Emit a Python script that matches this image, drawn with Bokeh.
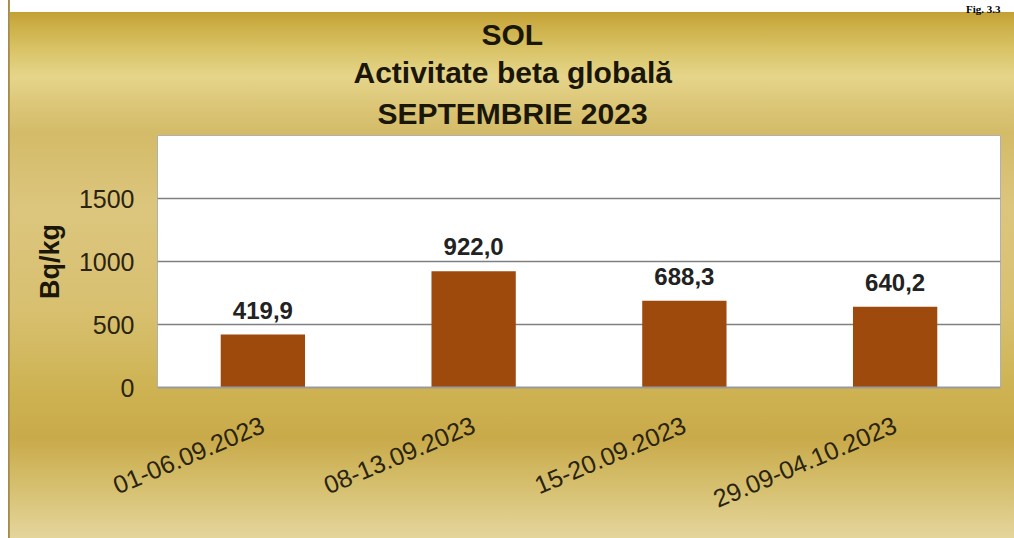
from bokeh.plotting import figure
from bokeh.models import ColumnDataSource, LabelSet, Title, Range1d, FixedTicker
from bokeh.core.properties import value
from bokeh.embed import file_html
from bokeh.resources import INLINE

# ---- data ----
categories = ["01-06.09.2023", "08-13.09.2023", "15-20.09.2023", "29.09-04.10.2023"]
values = [419.9, 922.0, 688.3, 640.2]
y_ticks = [0, 500, 1000, 1500]
title_lines = ["SOL", "Activitate beta globală", "SEPTEMBRIE 2023"]
y_label = "Bq/kg"
fig_label = "Fig. 3.3"

labels = [f"{v:.1f}".replace(".", ",") for v in values]
src = ColumnDataSource(dict(cat=categories, val=values, lab=labels))

W, H = 1014, 538
FL, FR, FT, FB = 157, 1000, 133, 387  # frame edges in canvas px
p = figure(
    width=W, height=H, x_range=categories, y_range=Range1d(0, 2000),
    output_backend="svg", toolbar_location=None,
    min_border_left=FL, min_border_right=W - FR, min_border_top=FT, min_border_bottom=H - FB,
)
p.border_fill_color = None
p.background_fill_color = "white"
p.outline_line_color = "#b0b0b0"
p.outline_line_width = 1
p.styles = {
    "background": (
        "linear-gradient(to right, #ffffff 0px, #ffffff 8px, #9c8548 8px, #b89e55 10px, rgba(0,0,0,0) 10px), "
        "linear-gradient(to bottom, #ffffff 0px, #ffffff 12px, #c2a035 12px, "
        "#c9aa40 20px, #d8c264 48px, #e5d58a 76px, #dbc576 108px, #d3bb68 133px, "
        "#dcc67e 208px, #d8c070 308px, #cdb150 398px, #c9aa4a 438px, "
        "#d6c070 488px, #e4d59c 538px)"
    ),
}

p.vbar(x="cat", top="val", width=0.4, source=src, fill_color="#9E4A0C", line_color=None)

p.add_layout(LabelSet(
    x="cat", y="val", text="lab", source=src, y_offset=16,
    text_align="center", text_baseline="alphabetic",
    text_font=value("Liberation Sans"), text_font_style="bold",
    text_font_size="24px", text_color="#222222",
))

# axes
p.yaxis.ticker = FixedTicker(ticks=y_ticks)
p.yaxis.axis_line_color = None
p.yaxis.major_tick_line_color = None
p.yaxis.minor_tick_line_color = None
p.yaxis.major_label_standoff = 17
p.yaxis.major_label_text_font = "Liberation Sans"
p.yaxis.major_label_text_font_size = "25px"
p.yaxis.major_label_text_color = "#2a2410"
p.yaxis.axis_label = y_label
p.yaxis.axis_label_text_font = "Liberation Sans"
p.yaxis.axis_label_text_font_style = "bold"
p.yaxis.axis_label_text_font_size = "27px"
p.yaxis.axis_label_text_color = "#1a1608"
p.yaxis.axis_label_standoff = 11

p.xaxis.axis_line_color = "#9a9a9a"
p.xaxis.axis_line_width = 2
p.xaxis.major_tick_line_color = None
p.xaxis.minor_tick_line_color = None
p.xaxis.major_label_orientation = 0.40
p.xaxis.major_label_standoff = 30
p.xaxis.major_label_text_font = "Liberation Sans"
p.xaxis.major_label_text_font_size = "25px"
p.xaxis.major_label_text_color = "#2a2410"

p.xgrid.grid_line_color = None
p.ygrid.grid_line_color = "#808080"
p.ygrid.grid_line_width = 1.5

# title: three lines, each centred at x=512 on the canvas
TITLE_CX = 512
approx_widths = {"SOL": 62, "Activitate beta globală": 318, "SEPTEMBRIE 2023": 270}
standoffs = [3, 2, 11]  # SOL, Activitate, SEPTEMBRIE
for txt, so in reversed(list(zip(title_lines, standoffs))):
    p.add_layout(Title(
        text=txt, align="left", offset=TITLE_CX - approx_widths[txt] / 2 - FL, standoff=so,
        text_font="Liberation Sans", text_font_style="bold",
        text_font_size="30px", text_color="#1a1608",
    ), "above")
p.add_layout(Title(
    text=fig_label, align="right", offset=0, standoff=0,
    text_font="Liberation Serif", text_font_style="bold",
    text_font_size="11px", text_color="#000000",
), "above")

open("out.html", "w").write(file_html(p, INLINE))
